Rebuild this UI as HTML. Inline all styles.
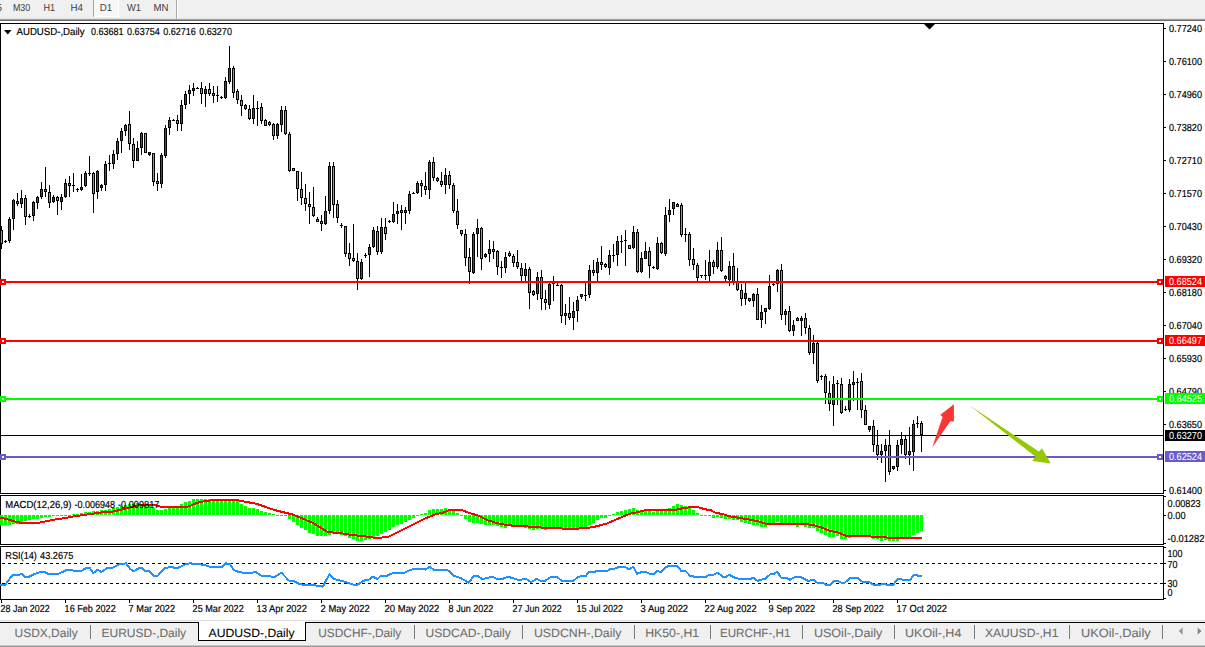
<!DOCTYPE html>
<html><head><meta charset="utf-8"><title>AUDUSD-,Daily</title>
<style>html,body{margin:0;padding:0;background:#fff;overflow:hidden}body{width:1205px;height:647px;font-family:"Liberation Sans", sans-serif}svg text{font-family:"Liberation Sans", sans-serif;white-space:pre;text-rendering:geometricPrecision}</style>
</head><body><svg width="1205" height="647" viewBox="0 0 1205 647" font-family='"Liberation Sans", sans-serif' style="display:block"><rect x="0" y="0" width="1205" height="647" fill="#ffffff"/>
<rect x="0" y="0" width="1205" height="18" fill="#f0f0f0"/>
<rect x="0" y="18" width="1205" height="1" fill="#e2e2e2"/>
<rect x="0" y="19" width="1205" height="1" fill="#a0a0a0"/>
<rect x="0" y="20" width="1205" height="1" fill="#696969"/>
<rect x="94" y="0" width="24" height="16" fill="#f7f7f7"/>
<rect x="118" y="0" width="1" height="17" fill="#ffffff"/>
<rect x="94" y="16" width="25" height="1" fill="#ffffff"/>
<rect x="93" y="0" width="1" height="17" fill="#a6a6a6"/>
<rect x="176" y="0" width="1" height="19" fill="#a6a6a6"/>
<rect x="177" y="0" width="1" height="19" fill="#ffffff"/>
<text x="-3.5" y="11" font-size="10.2" fill="#404040" stroke="#404040" stroke-width="0" textLength="5.5" lengthAdjust="spacingAndGlyphs">5</text>
<text x="12.9" y="11" font-size="10.2" fill="#404040" stroke="#404040" stroke-width="0" textLength="17.3" lengthAdjust="spacingAndGlyphs">M30</text>
<text x="43.5" y="11" font-size="10.2" fill="#404040" stroke="#404040" stroke-width="0" textLength="11.6" lengthAdjust="spacingAndGlyphs">H1</text>
<text x="70.5" y="11" font-size="10.2" fill="#404040" stroke="#404040" stroke-width="0" textLength="12.5" lengthAdjust="spacingAndGlyphs">H4</text>
<text x="99.7" y="11" font-size="10.2" fill="#404040" stroke="#404040" stroke-width="0" textLength="12.4" lengthAdjust="spacingAndGlyphs">D1</text>
<text x="127" y="11" font-size="10.2" fill="#404040" stroke="#404040" stroke-width="0" textLength="14" lengthAdjust="spacingAndGlyphs">W1</text>
<text x="153.5" y="11" font-size="10.2" fill="#404040" stroke="#404040" stroke-width="0" textLength="15" lengthAdjust="spacingAndGlyphs">MN</text>
<rect x="0" y="23" width="1164" height="1" fill="#000000"/>
<rect x="0" y="23" width="1" height="471" fill="#000000"/>
<rect x="1163" y="23" width="1" height="471" fill="#000000"/>
<rect x="0" y="495" width="1" height="50" fill="#000000"/>
<rect x="1163" y="495" width="1" height="50" fill="#000000"/>
<rect x="0" y="546" width="1" height="54" fill="#000000"/>
<rect x="1163" y="546" width="1" height="54" fill="#000000"/>
<rect x="0" y="493" width="1164" height="1" fill="#000000"/>
<rect x="0" y="494" width="1164" height="1" fill="#ffffff"/>
<rect x="0" y="495" width="1164" height="1" fill="#000000"/>
<rect x="0" y="544" width="1164" height="1" fill="#000000"/>
<rect x="0" y="546" width="1164" height="1" fill="#000000"/>
<rect x="0" y="599" width="1164" height="1" fill="#000000"/>
<g shape-rendering="crispEdges">
<rect x="0" y="515" width="3" height="10" fill="#00ff00"/>
<rect x="4" y="515" width="3" height="10" fill="#00ff00"/>
<rect x="8" y="515" width="3" height="10" fill="#00ff00"/>
<rect x="12" y="515" width="3" height="9" fill="#00ff00"/>
<rect x="16" y="515" width="3" height="9" fill="#00ff00"/>
<rect x="20" y="515" width="3" height="7" fill="#00ff00"/>
<rect x="24" y="515" width="3" height="6" fill="#00ff00"/>
<rect x="28" y="515" width="3" height="5" fill="#00ff00"/>
<rect x="32" y="515" width="3" height="4" fill="#00ff00"/>
<rect x="36" y="515" width="3" height="4" fill="#00ff00"/>
<rect x="40" y="515" width="3" height="3" fill="#00ff00"/>
<rect x="44" y="515" width="3" height="2" fill="#00ff00"/>
<rect x="48" y="515" width="3" height="2" fill="#00ff00"/>
<rect x="52" y="515" width="3" height="1" fill="#00ff00"/>
<rect x="56" y="515" width="3" height="1" fill="#00ff00"/>
<rect x="60" y="515" width="3" height="1" fill="#00ff00"/>
<rect x="64" y="515" width="3" height="1" fill="#00ff00"/>
<rect x="68" y="515" width="3" height="1" fill="#00ff00"/>
<rect x="72" y="514" width="3" height="1" fill="#00ff00"/>
<rect x="76" y="514" width="3" height="1" fill="#00ff00"/>
<rect x="80" y="513" width="3" height="2" fill="#00ff00"/>
<rect x="84" y="512" width="3" height="3" fill="#00ff00"/>
<rect x="88" y="512" width="3" height="3" fill="#00ff00"/>
<rect x="92" y="511" width="3" height="4" fill="#00ff00"/>
<rect x="96" y="511" width="3" height="4" fill="#00ff00"/>
<rect x="100" y="510" width="3" height="5" fill="#00ff00"/>
<rect x="104" y="510" width="3" height="5" fill="#00ff00"/>
<rect x="108" y="509" width="3" height="6" fill="#00ff00"/>
<rect x="112" y="508" width="3" height="7" fill="#00ff00"/>
<rect x="116" y="507" width="3" height="8" fill="#00ff00"/>
<rect x="120" y="506" width="3" height="9" fill="#00ff00"/>
<rect x="124" y="505" width="3" height="10" fill="#00ff00"/>
<rect x="128" y="504" width="3" height="11" fill="#00ff00"/>
<rect x="132" y="504" width="3" height="11" fill="#00ff00"/>
<rect x="136" y="503" width="3" height="12" fill="#00ff00"/>
<rect x="140" y="504" width="3" height="11" fill="#00ff00"/>
<rect x="144" y="504" width="3" height="11" fill="#00ff00"/>
<rect x="148" y="506" width="3" height="9" fill="#00ff00"/>
<rect x="152" y="508" width="3" height="7" fill="#00ff00"/>
<rect x="156" y="510" width="3" height="5" fill="#00ff00"/>
<rect x="160" y="510" width="3" height="5" fill="#00ff00"/>
<rect x="164" y="509" width="3" height="6" fill="#00ff00"/>
<rect x="168" y="508" width="3" height="7" fill="#00ff00"/>
<rect x="172" y="507" width="3" height="8" fill="#00ff00"/>
<rect x="176" y="506" width="3" height="9" fill="#00ff00"/>
<rect x="180" y="504" width="3" height="11" fill="#00ff00"/>
<rect x="184" y="502" width="3" height="13" fill="#00ff00"/>
<rect x="188" y="501" width="3" height="14" fill="#00ff00"/>
<rect x="192" y="499" width="3" height="16" fill="#00ff00"/>
<rect x="196" y="499" width="3" height="16" fill="#00ff00"/>
<rect x="200" y="499" width="3" height="16" fill="#00ff00"/>
<rect x="204" y="499" width="3" height="16" fill="#00ff00"/>
<rect x="208" y="499" width="3" height="16" fill="#00ff00"/>
<rect x="212" y="500" width="3" height="15" fill="#00ff00"/>
<rect x="216" y="500" width="3" height="15" fill="#00ff00"/>
<rect x="220" y="500" width="3" height="15" fill="#00ff00"/>
<rect x="224" y="500" width="3" height="15" fill="#00ff00"/>
<rect x="228" y="500" width="3" height="15" fill="#00ff00"/>
<rect x="232" y="500" width="3" height="15" fill="#00ff00"/>
<rect x="236" y="501" width="3" height="14" fill="#00ff00"/>
<rect x="240" y="504" width="3" height="11" fill="#00ff00"/>
<rect x="244" y="506" width="3" height="9" fill="#00ff00"/>
<rect x="248" y="508" width="3" height="7" fill="#00ff00"/>
<rect x="252" y="508" width="3" height="7" fill="#00ff00"/>
<rect x="256" y="509" width="3" height="6" fill="#00ff00"/>
<rect x="260" y="511" width="3" height="4" fill="#00ff00"/>
<rect x="264" y="512" width="3" height="3" fill="#00ff00"/>
<rect x="268" y="513" width="3" height="2" fill="#00ff00"/>
<rect x="272" y="514" width="3" height="1" fill="#00ff00"/>
<rect x="276" y="515" width="3" height="1" fill="#00ff00"/>
<rect x="280" y="515" width="3" height="1" fill="#00ff00"/>
<rect x="284" y="515" width="3" height="1" fill="#00ff00"/>
<rect x="288" y="515" width="3" height="4" fill="#00ff00"/>
<rect x="292" y="515" width="3" height="7" fill="#00ff00"/>
<rect x="296" y="515" width="3" height="10" fill="#00ff00"/>
<rect x="300" y="515" width="3" height="13" fill="#00ff00"/>
<rect x="304" y="515" width="3" height="15" fill="#00ff00"/>
<rect x="308" y="515" width="3" height="18" fill="#00ff00"/>
<rect x="312" y="515" width="3" height="19" fill="#00ff00"/>
<rect x="316" y="515" width="3" height="21" fill="#00ff00"/>
<rect x="320" y="515" width="3" height="21" fill="#00ff00"/>
<rect x="324" y="515" width="3" height="21" fill="#00ff00"/>
<rect x="328" y="515" width="3" height="20" fill="#00ff00"/>
<rect x="332" y="515" width="3" height="19" fill="#00ff00"/>
<rect x="336" y="515" width="3" height="19" fill="#00ff00"/>
<rect x="340" y="515" width="3" height="20" fill="#00ff00"/>
<rect x="344" y="515" width="3" height="21" fill="#00ff00"/>
<rect x="348" y="515" width="3" height="23" fill="#00ff00"/>
<rect x="352" y="515" width="3" height="24" fill="#00ff00"/>
<rect x="356" y="515" width="3" height="26" fill="#00ff00"/>
<rect x="360" y="515" width="3" height="26" fill="#00ff00"/>
<rect x="364" y="515" width="3" height="25" fill="#00ff00"/>
<rect x="368" y="515" width="3" height="24" fill="#00ff00"/>
<rect x="372" y="515" width="3" height="22" fill="#00ff00"/>
<rect x="376" y="515" width="3" height="21" fill="#00ff00"/>
<rect x="380" y="515" width="3" height="19" fill="#00ff00"/>
<rect x="384" y="515" width="3" height="17" fill="#00ff00"/>
<rect x="388" y="515" width="3" height="15" fill="#00ff00"/>
<rect x="392" y="515" width="3" height="12" fill="#00ff00"/>
<rect x="396" y="515" width="3" height="10" fill="#00ff00"/>
<rect x="400" y="515" width="3" height="9" fill="#00ff00"/>
<rect x="404" y="515" width="3" height="7" fill="#00ff00"/>
<rect x="408" y="515" width="3" height="5" fill="#00ff00"/>
<rect x="412" y="515" width="3" height="3" fill="#00ff00"/>
<rect x="416" y="515" width="3" height="1" fill="#00ff00"/>
<rect x="420" y="514" width="3" height="1" fill="#00ff00"/>
<rect x="424" y="513" width="3" height="2" fill="#00ff00"/>
<rect x="428" y="510" width="3" height="5" fill="#00ff00"/>
<rect x="432" y="509" width="3" height="6" fill="#00ff00"/>
<rect x="436" y="509" width="3" height="6" fill="#00ff00"/>
<rect x="440" y="509" width="3" height="6" fill="#00ff00"/>
<rect x="444" y="508" width="3" height="7" fill="#00ff00"/>
<rect x="448" y="510" width="3" height="5" fill="#00ff00"/>
<rect x="452" y="511" width="3" height="4" fill="#00ff00"/>
<rect x="456" y="513" width="3" height="2" fill="#00ff00"/>
<rect x="460" y="515" width="3" height="1" fill="#00ff00"/>
<rect x="464" y="515" width="3" height="4" fill="#00ff00"/>
<rect x="468" y="515" width="3" height="7" fill="#00ff00"/>
<rect x="472" y="515" width="3" height="8" fill="#00ff00"/>
<rect x="476" y="515" width="3" height="8" fill="#00ff00"/>
<rect x="480" y="515" width="3" height="9" fill="#00ff00"/>
<rect x="484" y="515" width="3" height="10" fill="#00ff00"/>
<rect x="488" y="515" width="3" height="10" fill="#00ff00"/>
<rect x="492" y="515" width="3" height="10" fill="#00ff00"/>
<rect x="496" y="515" width="3" height="11" fill="#00ff00"/>
<rect x="500" y="515" width="3" height="12" fill="#00ff00"/>
<rect x="504" y="515" width="3" height="13" fill="#00ff00"/>
<rect x="508" y="515" width="3" height="11" fill="#00ff00"/>
<rect x="512" y="515" width="3" height="11" fill="#00ff00"/>
<rect x="516" y="515" width="3" height="11" fill="#00ff00"/>
<rect x="520" y="515" width="3" height="12" fill="#00ff00"/>
<rect x="524" y="515" width="3" height="13" fill="#00ff00"/>
<rect x="528" y="515" width="3" height="14" fill="#00ff00"/>
<rect x="532" y="515" width="3" height="15" fill="#00ff00"/>
<rect x="536" y="515" width="3" height="14" fill="#00ff00"/>
<rect x="540" y="515" width="3" height="14" fill="#00ff00"/>
<rect x="544" y="515" width="3" height="15" fill="#00ff00"/>
<rect x="548" y="515" width="3" height="14" fill="#00ff00"/>
<rect x="552" y="515" width="3" height="14" fill="#00ff00"/>
<rect x="556" y="515" width="3" height="14" fill="#00ff00"/>
<rect x="560" y="515" width="3" height="14" fill="#00ff00"/>
<rect x="564" y="515" width="3" height="14" fill="#00ff00"/>
<rect x="568" y="515" width="3" height="15" fill="#00ff00"/>
<rect x="572" y="515" width="3" height="15" fill="#00ff00"/>
<rect x="576" y="515" width="3" height="14" fill="#00ff00"/>
<rect x="580" y="515" width="3" height="14" fill="#00ff00"/>
<rect x="584" y="515" width="3" height="12" fill="#00ff00"/>
<rect x="588" y="515" width="3" height="10" fill="#00ff00"/>
<rect x="592" y="515" width="3" height="8" fill="#00ff00"/>
<rect x="596" y="515" width="3" height="5" fill="#00ff00"/>
<rect x="600" y="515" width="3" height="3" fill="#00ff00"/>
<rect x="604" y="515" width="3" height="3" fill="#00ff00"/>
<rect x="608" y="515" width="3" height="1" fill="#00ff00"/>
<rect x="612" y="514" width="3" height="1" fill="#00ff00"/>
<rect x="616" y="512" width="3" height="3" fill="#00ff00"/>
<rect x="620" y="511" width="3" height="4" fill="#00ff00"/>
<rect x="624" y="510" width="3" height="5" fill="#00ff00"/>
<rect x="628" y="509" width="3" height="6" fill="#00ff00"/>
<rect x="632" y="508" width="3" height="7" fill="#00ff00"/>
<rect x="636" y="510" width="3" height="5" fill="#00ff00"/>
<rect x="640" y="511" width="3" height="4" fill="#00ff00"/>
<rect x="644" y="511" width="3" height="4" fill="#00ff00"/>
<rect x="648" y="511" width="3" height="4" fill="#00ff00"/>
<rect x="652" y="512" width="3" height="3" fill="#00ff00"/>
<rect x="656" y="511" width="3" height="4" fill="#00ff00"/>
<rect x="660" y="510" width="3" height="5" fill="#00ff00"/>
<rect x="664" y="510" width="3" height="5" fill="#00ff00"/>
<rect x="668" y="508" width="3" height="7" fill="#00ff00"/>
<rect x="672" y="506" width="3" height="9" fill="#00ff00"/>
<rect x="676" y="504" width="3" height="11" fill="#00ff00"/>
<rect x="680" y="505" width="3" height="10" fill="#00ff00"/>
<rect x="684" y="506" width="3" height="9" fill="#00ff00"/>
<rect x="688" y="508" width="3" height="7" fill="#00ff00"/>
<rect x="692" y="510" width="3" height="5" fill="#00ff00"/>
<rect x="696" y="513" width="3" height="2" fill="#00ff00"/>
<rect x="700" y="515" width="3" height="1" fill="#00ff00"/>
<rect x="704" y="515" width="3" height="1" fill="#00ff00"/>
<rect x="708" y="515" width="3" height="1" fill="#00ff00"/>
<rect x="712" y="515" width="3" height="3" fill="#00ff00"/>
<rect x="716" y="515" width="3" height="2" fill="#00ff00"/>
<rect x="720" y="515" width="3" height="3" fill="#00ff00"/>
<rect x="724" y="515" width="3" height="4" fill="#00ff00"/>
<rect x="728" y="515" width="3" height="4" fill="#00ff00"/>
<rect x="732" y="515" width="3" height="5" fill="#00ff00"/>
<rect x="736" y="515" width="3" height="5" fill="#00ff00"/>
<rect x="740" y="515" width="3" height="7" fill="#00ff00"/>
<rect x="744" y="515" width="3" height="8" fill="#00ff00"/>
<rect x="748" y="515" width="3" height="9" fill="#00ff00"/>
<rect x="752" y="515" width="3" height="10" fill="#00ff00"/>
<rect x="756" y="515" width="3" height="10" fill="#00ff00"/>
<rect x="760" y="515" width="3" height="12" fill="#00ff00"/>
<rect x="764" y="515" width="3" height="12" fill="#00ff00"/>
<rect x="768" y="515" width="3" height="10" fill="#00ff00"/>
<rect x="772" y="515" width="3" height="9" fill="#00ff00"/>
<rect x="776" y="515" width="3" height="7" fill="#00ff00"/>
<rect x="780" y="515" width="3" height="8" fill="#00ff00"/>
<rect x="784" y="515" width="3" height="9" fill="#00ff00"/>
<rect x="788" y="515" width="3" height="10" fill="#00ff00"/>
<rect x="792" y="515" width="3" height="10" fill="#00ff00"/>
<rect x="796" y="515" width="3" height="12" fill="#00ff00"/>
<rect x="800" y="515" width="3" height="10" fill="#00ff00"/>
<rect x="804" y="515" width="3" height="12" fill="#00ff00"/>
<rect x="808" y="515" width="3" height="13" fill="#00ff00"/>
<rect x="812" y="515" width="3" height="13" fill="#00ff00"/>
<rect x="816" y="515" width="3" height="16" fill="#00ff00"/>
<rect x="820" y="515" width="3" height="18" fill="#00ff00"/>
<rect x="824" y="515" width="3" height="20" fill="#00ff00"/>
<rect x="828" y="515" width="3" height="22" fill="#00ff00"/>
<rect x="832" y="515" width="3" height="22" fill="#00ff00"/>
<rect x="836" y="515" width="3" height="21" fill="#00ff00"/>
<rect x="840" y="515" width="3" height="24" fill="#00ff00"/>
<rect x="844" y="515" width="3" height="24" fill="#00ff00"/>
<rect x="848" y="515" width="3" height="23" fill="#00ff00"/>
<rect x="852" y="515" width="3" height="21" fill="#00ff00"/>
<rect x="856" y="515" width="3" height="21" fill="#00ff00"/>
<rect x="860" y="515" width="3" height="21" fill="#00ff00"/>
<rect x="864" y="515" width="3" height="22" fill="#00ff00"/>
<rect x="868" y="515" width="3" height="22" fill="#00ff00"/>
<rect x="872" y="515" width="3" height="24" fill="#00ff00"/>
<rect x="876" y="515" width="3" height="24" fill="#00ff00"/>
<rect x="880" y="515" width="3" height="26" fill="#00ff00"/>
<rect x="884" y="515" width="3" height="25" fill="#00ff00"/>
<rect x="888" y="515" width="3" height="26" fill="#00ff00"/>
<rect x="892" y="515" width="3" height="26" fill="#00ff00"/>
<rect x="896" y="515" width="3" height="26" fill="#00ff00"/>
<rect x="900" y="515" width="3" height="24" fill="#00ff00"/>
<rect x="904" y="515" width="3" height="24" fill="#00ff00"/>
<rect x="908" y="515" width="3" height="22" fill="#00ff00"/>
<rect x="912" y="515" width="3" height="20" fill="#00ff00"/>
<rect x="916" y="515" width="3" height="18" fill="#00ff00"/>
<rect x="920" y="515" width="3" height="16" fill="#00ff00"/>
</g>
<polyline shape-rendering="crispEdges" fill="none" stroke="#ff0000" stroke-width="2" stroke-linejoin="round" points="0.0,517.6 8.3,519.6 16.6,522.0 24.9,523.4 36.5,523.2 44.8,521.5 54.8,519.6 66.4,517.9 74.7,516.2 86.3,514.6 99.6,512.6 112.9,511.6 121.2,509.6 129.5,507.6 137.8,505.4 146.1,505.0 156.0,505.4 162.7,507.1 174.3,507.1 187.6,506.6 190.0,505.9 196.6,503.0 204.9,501.0 214.9,500.0 236.5,500.0 244.8,501.6 256.4,503.8 264.7,506.6 273.0,509.6 282.9,512.1 292.9,514.6 302.9,518.7 312.8,522.9 321.1,527.9 327.8,532.0 336.1,532.8 344.4,533.7 354.3,535.3 364.3,536.2 372.6,537.5 380.0,537.8 389.1,536.5 401.6,530.3 413.2,524.5 424.8,518.7 434.8,514.6 443.1,512.6 449.7,509.9 461.3,509.9 469.6,513.2 477.9,515.4 487.9,520.4 499.5,523.7 509.5,525.4 524.4,526.2 541.0,527.5 557.6,528.4 569.2,528.7 570.0,528.7 584.9,528.4 594.9,526.7 606.5,523.7 618.1,518.7 629.8,513.7 638.0,512.1 646.3,509.9 662.9,509.9 676.2,509.6 684.5,507.9 691.2,507.1 697.8,507.1 704.4,509.1 711.1,510.4 714.4,512.4 722.7,514.2 731.0,516.6 741.0,518.2 750.9,519.9 759.2,521.5 760.0,522.0 766.6,524.0 804.8,524.0 813.1,525.0 821.4,527.5 829.7,530.8 838.0,532.5 846.3,535.8 867.9,535.8 872.9,537.0 884.5,537.0 889.5,538.1 916.8,538.1 918.5,537.5 921.8,537.5"/>
<g shape-rendering="crispEdges">
<line x1="2" y1="563.5" x2="1163" y2="563.5" stroke="#000" stroke-width="1" stroke-dasharray="3 3"/>
<line x1="2" y1="583.5" x2="1163" y2="583.5" stroke="#000" stroke-width="1" stroke-dasharray="3 3"/>
</g>
<polyline shape-rendering="crispEdges" fill="none" stroke="#1e90ff" stroke-width="2" stroke-linejoin="round" points="0.0,585.0 5.0,585.0 12.4,575.0 18.3,575.0 21.6,573.9 24.9,576.7 29.0,576.7 34.9,573.9 39.8,572.1 44.8,572.1 48.1,573.9 58.1,573.9 66.4,570.1 71.4,570.1 73.9,570.9 81.3,570.9 87.1,567.6 89.6,567.6 93.3,573.1 97.9,569.7 101.2,572.2 107.1,567.9 112.9,567.6 119.5,564.3 126.1,563.4 130.3,569.2 133.6,571.2 139.4,567.9 141.9,567.9 145.2,570.9 148.5,570.9 153.5,575.9 157.7,575.9 164.3,568.4 171.8,566.7 174.3,567.9 178.4,567.6 186.7,563.8 190.0,563.4 196.6,563.9 204.9,565.1 209.9,566.7 222.4,566.7 225.7,563.4 229.8,563.9 234.0,570.1 238.1,571.7 246.4,573.4 250.6,573.4 255.6,571.7 261.4,575.9 269.7,575.9 273.8,577.5 281.3,572.6 288.8,580.5 292.9,580.5 299.5,584.2 309.5,585.3 316.1,585.5 322.8,586.7 329.4,574.2 334.4,579.2 344.4,581.7 354.3,585.0 357.6,584.5 364.3,580.5 368.4,580.0 372.6,576.7 377.6,578.9 380.0,576.4 386.6,575.9 390.8,573.9 394.9,572.6 404.9,572.6 410.7,569.7 417.3,568.7 421.5,568.7 425.6,569.7 429.3,566.7 433.9,569.7 447.2,569.7 453.9,575.9 460.5,577.9 468.8,582.8 473.8,575.9 477.9,575.9 482.1,578.9 486.2,578.4 492.0,576.7 497.0,578.9 502.8,578.9 507.8,576.7 518.6,580.0 526.1,578.9 531.0,582.2 536.8,578.9 541.0,580.9 545.1,580.9 551.0,576.7 556.8,576.7 561.7,580.9 569.2,580.9 570.0,580.9 573.3,580.9 578.3,576.7 585.8,575.9 589.1,571.7 594.9,571.7 597.4,570.9 607.3,570.9 610.7,568.9 614.8,568.7 619.0,566.7 624.8,566.7 628.1,568.7 630.6,568.7 633.1,566.7 637.2,573.9 642.2,571.7 645.5,571.7 649.7,573.9 653.8,573.9 657.1,570.9 661.3,572.1 666.3,566.7 671.2,565.9 677.1,565.9 681.2,570.9 685.4,570.9 690.3,575.9 694.5,576.7 706.1,576.7 709.4,574.7 713.6,574.7 717.7,572.6 722.7,576.7 726.0,576.7 729.3,574.7 734.3,577.5 738.5,578.7 750.9,578.7 753.4,577.9 757.6,580.9 759.2,580.0 760.0,580.0 765.0,578.9 770.8,573.9 774.1,573.7 777.4,571.7 780.7,577.5 785.7,577.5 789.9,579.7 794.0,577.5 799.8,576.7 808.1,580.9 813.1,579.7 817.3,582.8 823.1,582.8 826.4,585.0 829.7,585.0 833.9,580.9 838.0,580.9 841.3,582.8 844.6,582.8 850.5,577.5 857.1,577.5 862.1,581.7 868.7,581.7 873.7,585.0 879.5,585.0 882.8,583.8 887.8,585.0 892.8,585.0 897.8,579.2 900.2,578.7 902.7,579.7 910.2,579.7 913.5,575.5 916.0,574.7 918.5,575.9 921.8,575.9"/>
<g shape-rendering="crispEdges">
<rect x="1" y="226" width="1" height="23" fill="#000"/>
<rect x="0" y="230" width="3" height="14" fill="#000"/>
<rect x="1" y="231" width="1" height="12" fill="#00ff00"/>
<rect x="5" y="240" width="1" height="3" fill="#000"/>
<rect x="4" y="241" width="3" height="1" fill="#000"/>
<rect x="9" y="217" width="1" height="26" fill="#000"/>
<rect x="8" y="219" width="3" height="22" fill="#000"/>
<rect x="9" y="220" width="1" height="20" fill="#ff0000"/>
<rect x="13" y="199" width="1" height="31" fill="#000"/>
<rect x="12" y="200" width="3" height="19" fill="#000"/>
<rect x="13" y="201" width="1" height="17" fill="#ff0000"/>
<rect x="17" y="193" width="1" height="13" fill="#000"/>
<rect x="16" y="201" width="3" height="3" fill="#000"/>
<rect x="17" y="202" width="1" height="1" fill="#00ff00"/>
<rect x="21" y="190" width="1" height="18" fill="#000"/>
<rect x="20" y="198" width="3" height="6" fill="#000"/>
<rect x="21" y="199" width="1" height="4" fill="#ff0000"/>
<rect x="25" y="195" width="1" height="30" fill="#000"/>
<rect x="24" y="198" width="3" height="19" fill="#000"/>
<rect x="25" y="199" width="1" height="17" fill="#00ff00"/>
<rect x="29" y="214" width="1" height="4" fill="#000"/>
<rect x="28" y="216" width="3" height="1" fill="#000"/>
<rect x="33" y="201" width="1" height="20" fill="#000"/>
<rect x="32" y="202" width="3" height="14" fill="#000"/>
<rect x="33" y="203" width="1" height="12" fill="#ff0000"/>
<rect x="37" y="196" width="1" height="13" fill="#000"/>
<rect x="36" y="197" width="3" height="6" fill="#000"/>
<rect x="37" y="198" width="1" height="4" fill="#ff0000"/>
<rect x="41" y="182" width="1" height="17" fill="#000"/>
<rect x="40" y="189" width="3" height="8" fill="#000"/>
<rect x="41" y="190" width="1" height="6" fill="#ff0000"/>
<rect x="45" y="167" width="1" height="30" fill="#000"/>
<rect x="44" y="189" width="3" height="3" fill="#000"/>
<rect x="45" y="190" width="1" height="1" fill="#00ff00"/>
<rect x="49" y="185" width="1" height="23" fill="#000"/>
<rect x="48" y="192" width="3" height="11" fill="#000"/>
<rect x="49" y="193" width="1" height="9" fill="#00ff00"/>
<rect x="53" y="195" width="1" height="8" fill="#000"/>
<rect x="52" y="197" width="3" height="5" fill="#000"/>
<rect x="53" y="198" width="1" height="3" fill="#ff0000"/>
<rect x="57" y="196" width="1" height="19" fill="#000"/>
<rect x="56" y="197" width="3" height="4" fill="#000"/>
<rect x="57" y="198" width="1" height="2" fill="#00ff00"/>
<rect x="61" y="194" width="1" height="16" fill="#000"/>
<rect x="60" y="197" width="3" height="5" fill="#000"/>
<rect x="61" y="198" width="1" height="3" fill="#ff0000"/>
<rect x="65" y="179" width="1" height="19" fill="#000"/>
<rect x="64" y="183" width="3" height="14" fill="#000"/>
<rect x="65" y="184" width="1" height="12" fill="#ff0000"/>
<rect x="69" y="176" width="1" height="21" fill="#000"/>
<rect x="68" y="183" width="3" height="3" fill="#000"/>
<rect x="69" y="184" width="1" height="1" fill="#00ff00"/>
<rect x="73" y="173" width="1" height="19" fill="#000"/>
<rect x="72" y="185" width="3" height="1" fill="#000"/>
<rect x="77" y="188" width="1" height="4" fill="#000"/>
<rect x="76" y="189" width="3" height="1" fill="#000"/>
<rect x="81" y="174" width="1" height="17" fill="#000"/>
<rect x="80" y="187" width="3" height="3" fill="#000"/>
<rect x="81" y="188" width="1" height="1" fill="#ff0000"/>
<rect x="85" y="171" width="1" height="16" fill="#000"/>
<rect x="84" y="173" width="3" height="13" fill="#000"/>
<rect x="85" y="174" width="1" height="11" fill="#ff0000"/>
<rect x="89" y="156" width="1" height="20" fill="#000"/>
<rect x="88" y="173" width="3" height="1" fill="#000"/>
<rect x="93" y="172" width="1" height="41" fill="#000"/>
<rect x="92" y="173" width="3" height="21" fill="#000"/>
<rect x="93" y="174" width="1" height="19" fill="#00ff00"/>
<rect x="97" y="170" width="1" height="29" fill="#000"/>
<rect x="96" y="171" width="3" height="21" fill="#000"/>
<rect x="97" y="172" width="1" height="19" fill="#ff0000"/>
<rect x="101" y="184" width="1" height="7" fill="#000"/>
<rect x="100" y="185" width="3" height="3" fill="#000"/>
<rect x="101" y="186" width="1" height="1" fill="#ff0000"/>
<rect x="105" y="161" width="1" height="30" fill="#000"/>
<rect x="104" y="164" width="3" height="21" fill="#000"/>
<rect x="105" y="165" width="1" height="19" fill="#ff0000"/>
<rect x="109" y="155" width="1" height="16" fill="#000"/>
<rect x="108" y="163" width="3" height="1" fill="#000"/>
<rect x="113" y="150" width="1" height="19" fill="#000"/>
<rect x="112" y="154" width="3" height="10" fill="#000"/>
<rect x="113" y="155" width="1" height="8" fill="#ff0000"/>
<rect x="117" y="138" width="1" height="22" fill="#000"/>
<rect x="116" y="141" width="3" height="13" fill="#000"/>
<rect x="117" y="142" width="1" height="11" fill="#ff0000"/>
<rect x="121" y="128" width="1" height="25" fill="#000"/>
<rect x="120" y="131" width="3" height="10" fill="#000"/>
<rect x="121" y="132" width="1" height="8" fill="#ff0000"/>
<rect x="125" y="124" width="1" height="12" fill="#000"/>
<rect x="124" y="125" width="3" height="6" fill="#000"/>
<rect x="125" y="126" width="1" height="4" fill="#ff0000"/>
<rect x="129" y="111" width="1" height="39" fill="#000"/>
<rect x="128" y="124" width="3" height="20" fill="#000"/>
<rect x="129" y="125" width="1" height="18" fill="#00ff00"/>
<rect x="133" y="138" width="1" height="30" fill="#000"/>
<rect x="132" y="144" width="3" height="17" fill="#000"/>
<rect x="133" y="145" width="1" height="15" fill="#00ff00"/>
<rect x="137" y="141" width="1" height="20" fill="#000"/>
<rect x="136" y="148" width="3" height="13" fill="#000"/>
<rect x="137" y="149" width="1" height="11" fill="#ff0000"/>
<rect x="141" y="132" width="1" height="23" fill="#000"/>
<rect x="140" y="133" width="3" height="15" fill="#000"/>
<rect x="141" y="134" width="1" height="13" fill="#ff0000"/>
<rect x="145" y="133" width="1" height="20" fill="#000"/>
<rect x="144" y="133" width="3" height="20" fill="#000"/>
<rect x="145" y="134" width="1" height="18" fill="#00ff00"/>
<rect x="149" y="152" width="1" height="4" fill="#000"/>
<rect x="148" y="152" width="3" height="3" fill="#000"/>
<rect x="149" y="153" width="1" height="1" fill="#ff0000"/>
<rect x="153" y="153" width="1" height="33" fill="#000"/>
<rect x="152" y="153" width="3" height="29" fill="#000"/>
<rect x="153" y="154" width="1" height="27" fill="#00ff00"/>
<rect x="157" y="173" width="1" height="18" fill="#000"/>
<rect x="156" y="181" width="3" height="3" fill="#000"/>
<rect x="157" y="182" width="1" height="1" fill="#00ff00"/>
<rect x="161" y="153" width="1" height="35" fill="#000"/>
<rect x="160" y="155" width="3" height="29" fill="#000"/>
<rect x="161" y="156" width="1" height="27" fill="#ff0000"/>
<rect x="165" y="125" width="1" height="33" fill="#000"/>
<rect x="164" y="128" width="3" height="28" fill="#000"/>
<rect x="165" y="129" width="1" height="26" fill="#ff0000"/>
<rect x="169" y="117" width="1" height="18" fill="#000"/>
<rect x="168" y="120" width="3" height="8" fill="#000"/>
<rect x="169" y="121" width="1" height="6" fill="#ff0000"/>
<rect x="173" y="119" width="1" height="2" fill="#000"/>
<rect x="172" y="120" width="3" height="1" fill="#000"/>
<rect x="177" y="115" width="1" height="16" fill="#000"/>
<rect x="176" y="120" width="3" height="4" fill="#000"/>
<rect x="177" y="121" width="1" height="2" fill="#00ff00"/>
<rect x="181" y="100" width="1" height="31" fill="#000"/>
<rect x="180" y="105" width="3" height="19" fill="#000"/>
<rect x="181" y="106" width="1" height="17" fill="#ff0000"/>
<rect x="185" y="91" width="1" height="18" fill="#000"/>
<rect x="184" y="94" width="3" height="11" fill="#000"/>
<rect x="185" y="95" width="1" height="9" fill="#ff0000"/>
<rect x="189" y="85" width="1" height="19" fill="#000"/>
<rect x="188" y="90" width="3" height="4" fill="#000"/>
<rect x="189" y="91" width="1" height="2" fill="#ff0000"/>
<rect x="193" y="83" width="1" height="13" fill="#000"/>
<rect x="192" y="88" width="3" height="3" fill="#000"/>
<rect x="193" y="89" width="1" height="1" fill="#ff0000"/>
<rect x="197" y="87" width="1" height="2" fill="#000"/>
<rect x="196" y="88" width="3" height="1" fill="#000"/>
<rect x="201" y="82" width="1" height="22" fill="#000"/>
<rect x="200" y="88" width="3" height="6" fill="#000"/>
<rect x="201" y="89" width="1" height="4" fill="#00ff00"/>
<rect x="205" y="86" width="1" height="21" fill="#000"/>
<rect x="204" y="89" width="3" height="5" fill="#000"/>
<rect x="205" y="90" width="1" height="3" fill="#ff0000"/>
<rect x="209" y="83" width="1" height="13" fill="#000"/>
<rect x="208" y="89" width="3" height="5" fill="#000"/>
<rect x="209" y="90" width="1" height="3" fill="#00ff00"/>
<rect x="213" y="86" width="1" height="17" fill="#000"/>
<rect x="212" y="93" width="3" height="3" fill="#000"/>
<rect x="213" y="94" width="1" height="1" fill="#00ff00"/>
<rect x="217" y="86" width="1" height="16" fill="#000"/>
<rect x="216" y="95" width="3" height="1" fill="#000"/>
<rect x="221" y="96" width="1" height="3" fill="#000"/>
<rect x="220" y="97" width="3" height="1" fill="#000"/>
<rect x="225" y="77" width="1" height="22" fill="#000"/>
<rect x="224" y="81" width="3" height="17" fill="#000"/>
<rect x="225" y="82" width="1" height="15" fill="#ff0000"/>
<rect x="229" y="46" width="1" height="38" fill="#000"/>
<rect x="228" y="68" width="3" height="14" fill="#000"/>
<rect x="229" y="69" width="1" height="12" fill="#ff0000"/>
<rect x="233" y="66" width="1" height="32" fill="#000"/>
<rect x="232" y="68" width="3" height="25" fill="#000"/>
<rect x="233" y="69" width="1" height="23" fill="#00ff00"/>
<rect x="237" y="89" width="1" height="15" fill="#000"/>
<rect x="236" y="91" width="3" height="9" fill="#000"/>
<rect x="237" y="92" width="1" height="7" fill="#00ff00"/>
<rect x="241" y="95" width="1" height="21" fill="#000"/>
<rect x="240" y="100" width="3" height="6" fill="#000"/>
<rect x="241" y="101" width="1" height="4" fill="#00ff00"/>
<rect x="245" y="104" width="1" height="6" fill="#000"/>
<rect x="244" y="105" width="3" height="4" fill="#000"/>
<rect x="245" y="106" width="1" height="2" fill="#00ff00"/>
<rect x="249" y="105" width="1" height="15" fill="#000"/>
<rect x="248" y="109" width="3" height="10" fill="#000"/>
<rect x="249" y="110" width="1" height="8" fill="#00ff00"/>
<rect x="253" y="95" width="1" height="29" fill="#000"/>
<rect x="252" y="108" width="3" height="11" fill="#000"/>
<rect x="253" y="109" width="1" height="9" fill="#ff0000"/>
<rect x="257" y="101" width="1" height="25" fill="#000"/>
<rect x="256" y="108" width="3" height="1" fill="#000"/>
<rect x="261" y="103" width="1" height="21" fill="#000"/>
<rect x="260" y="107" width="3" height="14" fill="#000"/>
<rect x="261" y="108" width="1" height="12" fill="#00ff00"/>
<rect x="265" y="119" width="1" height="7" fill="#000"/>
<rect x="264" y="120" width="3" height="6" fill="#000"/>
<rect x="265" y="121" width="1" height="4" fill="#00ff00"/>
<rect x="269" y="121" width="1" height="5" fill="#000"/>
<rect x="268" y="122" width="3" height="3" fill="#000"/>
<rect x="269" y="123" width="1" height="1" fill="#00ff00"/>
<rect x="273" y="123" width="1" height="17" fill="#000"/>
<rect x="272" y="124" width="3" height="12" fill="#000"/>
<rect x="273" y="125" width="1" height="10" fill="#00ff00"/>
<rect x="277" y="123" width="1" height="16" fill="#000"/>
<rect x="276" y="124" width="3" height="12" fill="#000"/>
<rect x="277" y="125" width="1" height="10" fill="#ff0000"/>
<rect x="281" y="106" width="1" height="26" fill="#000"/>
<rect x="280" y="110" width="3" height="15" fill="#000"/>
<rect x="281" y="111" width="1" height="13" fill="#ff0000"/>
<rect x="285" y="106" width="1" height="29" fill="#000"/>
<rect x="284" y="110" width="3" height="24" fill="#000"/>
<rect x="285" y="111" width="1" height="22" fill="#00ff00"/>
<rect x="289" y="132" width="1" height="40" fill="#000"/>
<rect x="288" y="134" width="3" height="37" fill="#000"/>
<rect x="289" y="135" width="1" height="35" fill="#00ff00"/>
<rect x="293" y="168" width="1" height="3" fill="#000"/>
<rect x="292" y="168" width="3" height="3" fill="#000"/>
<rect x="293" y="169" width="1" height="1" fill="#00ff00"/>
<rect x="297" y="171" width="1" height="30" fill="#000"/>
<rect x="296" y="171" width="3" height="18" fill="#000"/>
<rect x="297" y="172" width="1" height="16" fill="#00ff00"/>
<rect x="301" y="172" width="1" height="33" fill="#000"/>
<rect x="300" y="189" width="3" height="9" fill="#000"/>
<rect x="301" y="190" width="1" height="7" fill="#00ff00"/>
<rect x="305" y="184" width="1" height="27" fill="#000"/>
<rect x="304" y="198" width="3" height="6" fill="#000"/>
<rect x="305" y="199" width="1" height="4" fill="#00ff00"/>
<rect x="309" y="192" width="1" height="32" fill="#000"/>
<rect x="308" y="204" width="3" height="3" fill="#000"/>
<rect x="309" y="205" width="1" height="1" fill="#00ff00"/>
<rect x="313" y="187" width="1" height="30" fill="#000"/>
<rect x="312" y="207" width="3" height="9" fill="#000"/>
<rect x="313" y="208" width="1" height="7" fill="#00ff00"/>
<rect x="317" y="217" width="1" height="5" fill="#000"/>
<rect x="316" y="219" width="3" height="3" fill="#000"/>
<rect x="317" y="220" width="1" height="1" fill="#00ff00"/>
<rect x="321" y="215" width="1" height="16" fill="#000"/>
<rect x="320" y="221" width="3" height="3" fill="#000"/>
<rect x="321" y="222" width="1" height="1" fill="#00ff00"/>
<rect x="325" y="196" width="1" height="29" fill="#000"/>
<rect x="324" y="211" width="3" height="13" fill="#000"/>
<rect x="325" y="212" width="1" height="11" fill="#ff0000"/>
<rect x="329" y="162" width="1" height="52" fill="#000"/>
<rect x="328" y="166" width="3" height="45" fill="#000"/>
<rect x="329" y="167" width="1" height="43" fill="#ff0000"/>
<rect x="333" y="162" width="1" height="56" fill="#000"/>
<rect x="332" y="166" width="3" height="39" fill="#000"/>
<rect x="333" y="167" width="1" height="37" fill="#00ff00"/>
<rect x="337" y="200" width="1" height="23" fill="#000"/>
<rect x="336" y="204" width="3" height="14" fill="#000"/>
<rect x="337" y="205" width="1" height="12" fill="#00ff00"/>
<rect x="341" y="223" width="1" height="5" fill="#000"/>
<rect x="340" y="225" width="3" height="1" fill="#000"/>
<rect x="345" y="226" width="1" height="31" fill="#000"/>
<rect x="344" y="226" width="3" height="28" fill="#000"/>
<rect x="345" y="227" width="1" height="26" fill="#00ff00"/>
<rect x="349" y="243" width="1" height="23" fill="#000"/>
<rect x="348" y="253" width="3" height="6" fill="#000"/>
<rect x="349" y="254" width="1" height="4" fill="#00ff00"/>
<rect x="353" y="224" width="1" height="38" fill="#000"/>
<rect x="352" y="258" width="3" height="3" fill="#000"/>
<rect x="353" y="259" width="1" height="1" fill="#00ff00"/>
<rect x="357" y="253" width="1" height="37" fill="#000"/>
<rect x="356" y="261" width="3" height="18" fill="#000"/>
<rect x="357" y="262" width="1" height="16" fill="#00ff00"/>
<rect x="361" y="259" width="1" height="21" fill="#000"/>
<rect x="360" y="262" width="3" height="17" fill="#000"/>
<rect x="361" y="263" width="1" height="15" fill="#ff0000"/>
<rect x="365" y="253" width="1" height="5" fill="#000"/>
<rect x="364" y="255" width="3" height="1" fill="#000"/>
<rect x="369" y="244" width="1" height="33" fill="#000"/>
<rect x="368" y="247" width="3" height="8" fill="#000"/>
<rect x="369" y="248" width="1" height="6" fill="#ff0000"/>
<rect x="373" y="227" width="1" height="21" fill="#000"/>
<rect x="372" y="230" width="3" height="17" fill="#000"/>
<rect x="373" y="231" width="1" height="15" fill="#ff0000"/>
<rect x="377" y="226" width="1" height="29" fill="#000"/>
<rect x="376" y="231" width="3" height="21" fill="#000"/>
<rect x="377" y="232" width="1" height="19" fill="#00ff00"/>
<rect x="381" y="218" width="1" height="36" fill="#000"/>
<rect x="380" y="227" width="3" height="25" fill="#000"/>
<rect x="381" y="228" width="1" height="23" fill="#ff0000"/>
<rect x="385" y="218" width="1" height="22" fill="#000"/>
<rect x="384" y="227" width="3" height="7" fill="#000"/>
<rect x="385" y="228" width="1" height="5" fill="#00ff00"/>
<rect x="389" y="220" width="1" height="3" fill="#000"/>
<rect x="388" y="221" width="3" height="1" fill="#000"/>
<rect x="393" y="202" width="1" height="21" fill="#000"/>
<rect x="392" y="214" width="3" height="8" fill="#000"/>
<rect x="393" y="215" width="1" height="6" fill="#ff0000"/>
<rect x="397" y="204" width="1" height="20" fill="#000"/>
<rect x="396" y="211" width="3" height="3" fill="#000"/>
<rect x="397" y="212" width="1" height="1" fill="#ff0000"/>
<rect x="401" y="205" width="1" height="25" fill="#000"/>
<rect x="400" y="210" width="3" height="3" fill="#000"/>
<rect x="401" y="211" width="1" height="1" fill="#00ff00"/>
<rect x="405" y="207" width="1" height="17" fill="#000"/>
<rect x="404" y="210" width="3" height="3" fill="#000"/>
<rect x="405" y="211" width="1" height="1" fill="#ff0000"/>
<rect x="409" y="191" width="1" height="23" fill="#000"/>
<rect x="408" y="194" width="3" height="17" fill="#000"/>
<rect x="409" y="195" width="1" height="15" fill="#ff0000"/>
<rect x="413" y="192" width="1" height="2" fill="#000"/>
<rect x="412" y="193" width="3" height="1" fill="#000"/>
<rect x="417" y="181" width="1" height="13" fill="#000"/>
<rect x="416" y="183" width="3" height="10" fill="#000"/>
<rect x="417" y="184" width="1" height="8" fill="#ff0000"/>
<rect x="421" y="180" width="1" height="17" fill="#000"/>
<rect x="420" y="183" width="3" height="3" fill="#000"/>
<rect x="421" y="184" width="1" height="1" fill="#00ff00"/>
<rect x="425" y="172" width="1" height="23" fill="#000"/>
<rect x="424" y="186" width="3" height="4" fill="#000"/>
<rect x="425" y="187" width="1" height="2" fill="#00ff00"/>
<rect x="429" y="160" width="1" height="39" fill="#000"/>
<rect x="428" y="162" width="3" height="28" fill="#000"/>
<rect x="429" y="163" width="1" height="26" fill="#ff0000"/>
<rect x="433" y="157" width="1" height="24" fill="#000"/>
<rect x="432" y="162" width="3" height="16" fill="#000"/>
<rect x="433" y="163" width="1" height="14" fill="#00ff00"/>
<rect x="437" y="177" width="1" height="5" fill="#000"/>
<rect x="436" y="178" width="3" height="3" fill="#000"/>
<rect x="437" y="179" width="1" height="1" fill="#00ff00"/>
<rect x="441" y="172" width="1" height="15" fill="#000"/>
<rect x="440" y="181" width="3" height="4" fill="#000"/>
<rect x="441" y="182" width="1" height="2" fill="#00ff00"/>
<rect x="445" y="168" width="1" height="26" fill="#000"/>
<rect x="444" y="175" width="3" height="10" fill="#000"/>
<rect x="445" y="176" width="1" height="8" fill="#ff0000"/>
<rect x="449" y="171" width="1" height="18" fill="#000"/>
<rect x="448" y="175" width="3" height="10" fill="#000"/>
<rect x="449" y="176" width="1" height="8" fill="#00ff00"/>
<rect x="453" y="183" width="1" height="30" fill="#000"/>
<rect x="452" y="185" width="3" height="26" fill="#000"/>
<rect x="453" y="186" width="1" height="24" fill="#00ff00"/>
<rect x="457" y="199" width="1" height="30" fill="#000"/>
<rect x="456" y="211" width="3" height="14" fill="#000"/>
<rect x="457" y="212" width="1" height="12" fill="#00ff00"/>
<rect x="461" y="230" width="1" height="6" fill="#000"/>
<rect x="460" y="230" width="3" height="4" fill="#000"/>
<rect x="461" y="231" width="1" height="2" fill="#00ff00"/>
<rect x="465" y="229" width="1" height="37" fill="#000"/>
<rect x="464" y="234" width="3" height="24" fill="#000"/>
<rect x="465" y="235" width="1" height="22" fill="#00ff00"/>
<rect x="469" y="248" width="1" height="36" fill="#000"/>
<rect x="468" y="257" width="3" height="15" fill="#000"/>
<rect x="469" y="258" width="1" height="13" fill="#00ff00"/>
<rect x="473" y="232" width="1" height="42" fill="#000"/>
<rect x="472" y="234" width="3" height="39" fill="#000"/>
<rect x="473" y="235" width="1" height="37" fill="#ff0000"/>
<rect x="477" y="219" width="1" height="38" fill="#000"/>
<rect x="476" y="228" width="3" height="6" fill="#000"/>
<rect x="477" y="229" width="1" height="4" fill="#ff0000"/>
<rect x="481" y="227" width="1" height="43" fill="#000"/>
<rect x="480" y="228" width="3" height="31" fill="#000"/>
<rect x="481" y="229" width="1" height="29" fill="#00ff00"/>
<rect x="485" y="253" width="1" height="5" fill="#000"/>
<rect x="484" y="254" width="3" height="3" fill="#000"/>
<rect x="485" y="255" width="1" height="1" fill="#ff0000"/>
<rect x="489" y="240" width="1" height="22" fill="#000"/>
<rect x="488" y="249" width="3" height="5" fill="#000"/>
<rect x="489" y="250" width="1" height="3" fill="#ff0000"/>
<rect x="493" y="241" width="1" height="18" fill="#000"/>
<rect x="492" y="249" width="3" height="3" fill="#000"/>
<rect x="493" y="250" width="1" height="1" fill="#00ff00"/>
<rect x="497" y="250" width="1" height="25" fill="#000"/>
<rect x="496" y="251" width="3" height="16" fill="#000"/>
<rect x="497" y="252" width="1" height="14" fill="#00ff00"/>
<rect x="501" y="261" width="1" height="17" fill="#000"/>
<rect x="500" y="267" width="3" height="1" fill="#000"/>
<rect x="505" y="252" width="1" height="21" fill="#000"/>
<rect x="504" y="257" width="3" height="11" fill="#000"/>
<rect x="505" y="258" width="1" height="9" fill="#ff0000"/>
<rect x="509" y="251" width="1" height="6" fill="#000"/>
<rect x="508" y="253" width="3" height="3" fill="#000"/>
<rect x="509" y="254" width="1" height="1" fill="#00ff00"/>
<rect x="513" y="254" width="1" height="13" fill="#000"/>
<rect x="512" y="256" width="3" height="7" fill="#000"/>
<rect x="513" y="257" width="1" height="5" fill="#00ff00"/>
<rect x="517" y="250" width="1" height="19" fill="#000"/>
<rect x="516" y="262" width="3" height="5" fill="#000"/>
<rect x="517" y="263" width="1" height="3" fill="#00ff00"/>
<rect x="521" y="263" width="1" height="19" fill="#000"/>
<rect x="520" y="268" width="3" height="8" fill="#000"/>
<rect x="521" y="269" width="1" height="6" fill="#00ff00"/>
<rect x="525" y="263" width="1" height="18" fill="#000"/>
<rect x="524" y="269" width="3" height="7" fill="#000"/>
<rect x="525" y="270" width="1" height="5" fill="#ff0000"/>
<rect x="529" y="267" width="1" height="42" fill="#000"/>
<rect x="528" y="269" width="3" height="24" fill="#000"/>
<rect x="529" y="270" width="1" height="22" fill="#00ff00"/>
<rect x="533" y="290" width="1" height="6" fill="#000"/>
<rect x="532" y="291" width="3" height="4" fill="#000"/>
<rect x="533" y="292" width="1" height="2" fill="#00ff00"/>
<rect x="537" y="272" width="1" height="28" fill="#000"/>
<rect x="536" y="277" width="3" height="17" fill="#000"/>
<rect x="537" y="278" width="1" height="15" fill="#ff0000"/>
<rect x="541" y="270" width="1" height="40" fill="#000"/>
<rect x="540" y="277" width="3" height="22" fill="#000"/>
<rect x="541" y="278" width="1" height="20" fill="#00ff00"/>
<rect x="545" y="290" width="1" height="20" fill="#000"/>
<rect x="544" y="299" width="3" height="4" fill="#000"/>
<rect x="545" y="300" width="1" height="2" fill="#00ff00"/>
<rect x="549" y="283" width="1" height="26" fill="#000"/>
<rect x="548" y="284" width="3" height="21" fill="#000"/>
<rect x="549" y="285" width="1" height="19" fill="#ff0000"/>
<rect x="553" y="276" width="1" height="25" fill="#000"/>
<rect x="552" y="283" width="3" height="1" fill="#000"/>
<rect x="557" y="283" width="1" height="2" fill="#000"/>
<rect x="556" y="285" width="3" height="1" fill="#000"/>
<rect x="561" y="284" width="1" height="39" fill="#000"/>
<rect x="560" y="285" width="3" height="31" fill="#000"/>
<rect x="561" y="286" width="1" height="29" fill="#00ff00"/>
<rect x="565" y="304" width="1" height="21" fill="#000"/>
<rect x="564" y="313" width="3" height="3" fill="#000"/>
<rect x="565" y="314" width="1" height="1" fill="#ff0000"/>
<rect x="569" y="297" width="1" height="23" fill="#000"/>
<rect x="568" y="313" width="3" height="5" fill="#000"/>
<rect x="569" y="314" width="1" height="3" fill="#00ff00"/>
<rect x="573" y="302" width="1" height="28" fill="#000"/>
<rect x="572" y="311" width="3" height="7" fill="#000"/>
<rect x="573" y="312" width="1" height="5" fill="#ff0000"/>
<rect x="577" y="296" width="1" height="26" fill="#000"/>
<rect x="576" y="300" width="3" height="11" fill="#000"/>
<rect x="577" y="301" width="1" height="9" fill="#ff0000"/>
<rect x="581" y="294" width="1" height="5" fill="#000"/>
<rect x="580" y="294" width="3" height="3" fill="#000"/>
<rect x="581" y="295" width="1" height="1" fill="#ff0000"/>
<rect x="585" y="283" width="1" height="18" fill="#000"/>
<rect x="584" y="295" width="3" height="1" fill="#000"/>
<rect x="589" y="265" width="1" height="33" fill="#000"/>
<rect x="588" y="270" width="3" height="25" fill="#000"/>
<rect x="589" y="271" width="1" height="23" fill="#ff0000"/>
<rect x="593" y="260" width="1" height="16" fill="#000"/>
<rect x="592" y="270" width="3" height="3" fill="#000"/>
<rect x="593" y="271" width="1" height="1" fill="#00ff00"/>
<rect x="597" y="258" width="1" height="23" fill="#000"/>
<rect x="596" y="262" width="3" height="11" fill="#000"/>
<rect x="597" y="263" width="1" height="9" fill="#ff0000"/>
<rect x="601" y="246" width="1" height="24" fill="#000"/>
<rect x="600" y="262" width="3" height="3" fill="#000"/>
<rect x="601" y="263" width="1" height="1" fill="#00ff00"/>
<rect x="605" y="263" width="1" height="5" fill="#000"/>
<rect x="604" y="264" width="3" height="3" fill="#000"/>
<rect x="605" y="265" width="1" height="1" fill="#00ff00"/>
<rect x="609" y="250" width="1" height="25" fill="#000"/>
<rect x="608" y="255" width="3" height="13" fill="#000"/>
<rect x="609" y="256" width="1" height="11" fill="#ff0000"/>
<rect x="613" y="244" width="1" height="18" fill="#000"/>
<rect x="612" y="255" width="3" height="1" fill="#000"/>
<rect x="617" y="236" width="1" height="30" fill="#000"/>
<rect x="616" y="241" width="3" height="14" fill="#000"/>
<rect x="617" y="242" width="1" height="12" fill="#ff0000"/>
<rect x="621" y="235" width="1" height="18" fill="#000"/>
<rect x="620" y="241" width="3" height="1" fill="#000"/>
<rect x="625" y="230" width="1" height="36" fill="#000"/>
<rect x="624" y="240" width="3" height="1" fill="#000"/>
<rect x="629" y="245" width="1" height="4" fill="#000"/>
<rect x="628" y="245" width="3" height="4" fill="#000"/>
<rect x="629" y="246" width="1" height="2" fill="#00ff00"/>
<rect x="633" y="226" width="1" height="23" fill="#000"/>
<rect x="632" y="232" width="3" height="16" fill="#000"/>
<rect x="633" y="233" width="1" height="14" fill="#ff0000"/>
<rect x="637" y="229" width="1" height="44" fill="#000"/>
<rect x="636" y="232" width="3" height="40" fill="#000"/>
<rect x="637" y="233" width="1" height="38" fill="#00ff00"/>
<rect x="641" y="252" width="1" height="21" fill="#000"/>
<rect x="640" y="258" width="3" height="14" fill="#000"/>
<rect x="641" y="259" width="1" height="12" fill="#ff0000"/>
<rect x="645" y="242" width="1" height="17" fill="#000"/>
<rect x="644" y="251" width="3" height="8" fill="#000"/>
<rect x="645" y="252" width="1" height="6" fill="#ff0000"/>
<rect x="649" y="247" width="1" height="31" fill="#000"/>
<rect x="648" y="251" width="3" height="15" fill="#000"/>
<rect x="649" y="252" width="1" height="13" fill="#00ff00"/>
<rect x="653" y="266" width="1" height="3" fill="#000"/>
<rect x="652" y="267" width="3" height="1" fill="#000"/>
<rect x="657" y="237" width="1" height="33" fill="#000"/>
<rect x="656" y="243" width="3" height="26" fill="#000"/>
<rect x="657" y="244" width="1" height="24" fill="#ff0000"/>
<rect x="661" y="242" width="1" height="12" fill="#000"/>
<rect x="660" y="243" width="3" height="10" fill="#000"/>
<rect x="661" y="244" width="1" height="8" fill="#00ff00"/>
<rect x="665" y="207" width="1" height="49" fill="#000"/>
<rect x="664" y="215" width="3" height="39" fill="#000"/>
<rect x="665" y="216" width="1" height="37" fill="#ff0000"/>
<rect x="669" y="199" width="1" height="23" fill="#000"/>
<rect x="668" y="210" width="3" height="5" fill="#000"/>
<rect x="669" y="211" width="1" height="3" fill="#ff0000"/>
<rect x="673" y="202" width="1" height="13" fill="#000"/>
<rect x="672" y="202" width="3" height="7" fill="#000"/>
<rect x="673" y="203" width="1" height="5" fill="#ff0000"/>
<rect x="677" y="203" width="1" height="4" fill="#000"/>
<rect x="676" y="204" width="3" height="3" fill="#000"/>
<rect x="677" y="205" width="1" height="1" fill="#00ff00"/>
<rect x="681" y="203" width="1" height="34" fill="#000"/>
<rect x="680" y="205" width="3" height="30" fill="#000"/>
<rect x="681" y="206" width="1" height="28" fill="#00ff00"/>
<rect x="685" y="228" width="1" height="14" fill="#000"/>
<rect x="684" y="234" width="3" height="1" fill="#000"/>
<rect x="689" y="232" width="1" height="34" fill="#000"/>
<rect x="688" y="234" width="3" height="26" fill="#000"/>
<rect x="689" y="235" width="1" height="24" fill="#00ff00"/>
<rect x="693" y="248" width="1" height="22" fill="#000"/>
<rect x="692" y="259" width="3" height="6" fill="#000"/>
<rect x="693" y="260" width="1" height="4" fill="#00ff00"/>
<rect x="697" y="263" width="1" height="18" fill="#000"/>
<rect x="696" y="265" width="3" height="13" fill="#000"/>
<rect x="697" y="266" width="1" height="11" fill="#00ff00"/>
<rect x="701" y="275" width="1" height="3" fill="#000"/>
<rect x="700" y="275" width="3" height="1" fill="#000"/>
<rect x="705" y="260" width="1" height="20" fill="#000"/>
<rect x="704" y="275" width="3" height="1" fill="#000"/>
<rect x="709" y="250" width="1" height="31" fill="#000"/>
<rect x="708" y="262" width="3" height="14" fill="#000"/>
<rect x="709" y="263" width="1" height="12" fill="#ff0000"/>
<rect x="713" y="260" width="1" height="14" fill="#000"/>
<rect x="712" y="262" width="3" height="5" fill="#000"/>
<rect x="713" y="263" width="1" height="3" fill="#00ff00"/>
<rect x="717" y="242" width="1" height="27" fill="#000"/>
<rect x="716" y="250" width="3" height="17" fill="#000"/>
<rect x="717" y="251" width="1" height="15" fill="#ff0000"/>
<rect x="721" y="237" width="1" height="35" fill="#000"/>
<rect x="720" y="250" width="3" height="21" fill="#000"/>
<rect x="721" y="251" width="1" height="19" fill="#00ff00"/>
<rect x="725" y="275" width="1" height="6" fill="#000"/>
<rect x="724" y="276" width="3" height="3" fill="#000"/>
<rect x="725" y="277" width="1" height="1" fill="#00ff00"/>
<rect x="729" y="261" width="1" height="25" fill="#000"/>
<rect x="728" y="266" width="3" height="14" fill="#000"/>
<rect x="729" y="267" width="1" height="12" fill="#ff0000"/>
<rect x="733" y="253" width="1" height="32" fill="#000"/>
<rect x="732" y="266" width="3" height="16" fill="#000"/>
<rect x="733" y="267" width="1" height="14" fill="#00ff00"/>
<rect x="737" y="268" width="1" height="23" fill="#000"/>
<rect x="736" y="282" width="3" height="8" fill="#000"/>
<rect x="737" y="283" width="1" height="6" fill="#00ff00"/>
<rect x="741" y="284" width="1" height="22" fill="#000"/>
<rect x="740" y="290" width="3" height="9" fill="#000"/>
<rect x="741" y="291" width="1" height="7" fill="#00ff00"/>
<rect x="745" y="283" width="1" height="22" fill="#000"/>
<rect x="744" y="293" width="3" height="6" fill="#000"/>
<rect x="745" y="294" width="1" height="4" fill="#ff0000"/>
<rect x="749" y="298" width="1" height="4" fill="#000"/>
<rect x="748" y="298" width="3" height="3" fill="#000"/>
<rect x="749" y="299" width="1" height="1" fill="#00ff00"/>
<rect x="753" y="293" width="1" height="14" fill="#000"/>
<rect x="752" y="294" width="3" height="7" fill="#000"/>
<rect x="753" y="295" width="1" height="5" fill="#ff0000"/>
<rect x="757" y="288" width="1" height="32" fill="#000"/>
<rect x="756" y="294" width="3" height="26" fill="#000"/>
<rect x="757" y="295" width="1" height="24" fill="#00ff00"/>
<rect x="761" y="305" width="1" height="23" fill="#000"/>
<rect x="760" y="312" width="3" height="8" fill="#000"/>
<rect x="761" y="313" width="1" height="6" fill="#ff0000"/>
<rect x="765" y="308" width="1" height="16" fill="#000"/>
<rect x="764" y="308" width="3" height="4" fill="#000"/>
<rect x="765" y="309" width="1" height="2" fill="#ff0000"/>
<rect x="769" y="275" width="1" height="35" fill="#000"/>
<rect x="768" y="286" width="3" height="23" fill="#000"/>
<rect x="769" y="287" width="1" height="21" fill="#ff0000"/>
<rect x="773" y="282" width="1" height="4" fill="#000"/>
<rect x="772" y="284" width="3" height="1" fill="#000"/>
<rect x="777" y="269" width="1" height="23" fill="#000"/>
<rect x="776" y="270" width="3" height="14" fill="#000"/>
<rect x="777" y="271" width="1" height="12" fill="#ff0000"/>
<rect x="781" y="264" width="1" height="56" fill="#000"/>
<rect x="780" y="270" width="3" height="45" fill="#000"/>
<rect x="781" y="271" width="1" height="43" fill="#00ff00"/>
<rect x="785" y="309" width="1" height="16" fill="#000"/>
<rect x="784" y="311" width="3" height="4" fill="#000"/>
<rect x="785" y="312" width="1" height="2" fill="#ff0000"/>
<rect x="789" y="306" width="1" height="26" fill="#000"/>
<rect x="788" y="311" width="3" height="20" fill="#000"/>
<rect x="789" y="312" width="1" height="18" fill="#00ff00"/>
<rect x="793" y="320" width="1" height="16" fill="#000"/>
<rect x="792" y="325" width="3" height="6" fill="#000"/>
<rect x="793" y="326" width="1" height="4" fill="#ff0000"/>
<rect x="797" y="317" width="1" height="3" fill="#000"/>
<rect x="796" y="318" width="3" height="3" fill="#000"/>
<rect x="797" y="319" width="1" height="1" fill="#00ff00"/>
<rect x="801" y="316" width="1" height="20" fill="#000"/>
<rect x="800" y="318" width="3" height="3" fill="#000"/>
<rect x="801" y="319" width="1" height="1" fill="#ff0000"/>
<rect x="805" y="313" width="1" height="21" fill="#000"/>
<rect x="804" y="318" width="3" height="10" fill="#000"/>
<rect x="805" y="319" width="1" height="8" fill="#00ff00"/>
<rect x="809" y="325" width="1" height="30" fill="#000"/>
<rect x="808" y="328" width="3" height="25" fill="#000"/>
<rect x="809" y="329" width="1" height="23" fill="#00ff00"/>
<rect x="813" y="335" width="1" height="29" fill="#000"/>
<rect x="812" y="343" width="3" height="10" fill="#000"/>
<rect x="813" y="344" width="1" height="8" fill="#ff0000"/>
<rect x="817" y="342" width="1" height="41" fill="#000"/>
<rect x="816" y="343" width="3" height="38" fill="#000"/>
<rect x="817" y="344" width="1" height="36" fill="#00ff00"/>
<rect x="821" y="375" width="1" height="5" fill="#000"/>
<rect x="820" y="376" width="3" height="1" fill="#000"/>
<rect x="825" y="374" width="1" height="30" fill="#000"/>
<rect x="824" y="376" width="3" height="17" fill="#000"/>
<rect x="825" y="377" width="1" height="15" fill="#00ff00"/>
<rect x="829" y="381" width="1" height="30" fill="#000"/>
<rect x="828" y="393" width="3" height="11" fill="#000"/>
<rect x="829" y="394" width="1" height="9" fill="#00ff00"/>
<rect x="833" y="376" width="1" height="50" fill="#000"/>
<rect x="832" y="384" width="3" height="21" fill="#000"/>
<rect x="833" y="385" width="1" height="19" fill="#ff0000"/>
<rect x="837" y="380" width="1" height="25" fill="#000"/>
<rect x="836" y="383" width="3" height="1" fill="#000"/>
<rect x="841" y="378" width="1" height="36" fill="#000"/>
<rect x="840" y="384" width="3" height="29" fill="#000"/>
<rect x="841" y="385" width="1" height="27" fill="#00ff00"/>
<rect x="845" y="406" width="1" height="5" fill="#000"/>
<rect x="844" y="409" width="3" height="1" fill="#000"/>
<rect x="849" y="379" width="1" height="33" fill="#000"/>
<rect x="848" y="384" width="3" height="26" fill="#000"/>
<rect x="849" y="385" width="1" height="24" fill="#ff0000"/>
<rect x="853" y="371" width="1" height="30" fill="#000"/>
<rect x="852" y="382" width="3" height="3" fill="#000"/>
<rect x="853" y="383" width="1" height="1" fill="#ff0000"/>
<rect x="857" y="378" width="1" height="32" fill="#000"/>
<rect x="856" y="382" width="3" height="1" fill="#000"/>
<rect x="861" y="373" width="1" height="45" fill="#000"/>
<rect x="860" y="381" width="3" height="29" fill="#000"/>
<rect x="861" y="382" width="1" height="27" fill="#00ff00"/>
<rect x="865" y="405" width="1" height="20" fill="#000"/>
<rect x="864" y="410" width="3" height="15" fill="#000"/>
<rect x="865" y="411" width="1" height="13" fill="#00ff00"/>
<rect x="869" y="426" width="1" height="6" fill="#000"/>
<rect x="868" y="426" width="3" height="4" fill="#000"/>
<rect x="869" y="427" width="1" height="2" fill="#ff0000"/>
<rect x="873" y="420" width="1" height="32" fill="#000"/>
<rect x="872" y="426" width="3" height="19" fill="#000"/>
<rect x="873" y="427" width="1" height="17" fill="#00ff00"/>
<rect x="877" y="430" width="1" height="30" fill="#000"/>
<rect x="876" y="445" width="3" height="10" fill="#000"/>
<rect x="877" y="446" width="1" height="8" fill="#00ff00"/>
<rect x="881" y="444" width="1" height="19" fill="#000"/>
<rect x="880" y="451" width="3" height="4" fill="#000"/>
<rect x="881" y="452" width="1" height="2" fill="#ff0000"/>
<rect x="885" y="439" width="1" height="43" fill="#000"/>
<rect x="884" y="445" width="3" height="6" fill="#000"/>
<rect x="885" y="446" width="1" height="4" fill="#ff0000"/>
<rect x="889" y="430" width="1" height="45" fill="#000"/>
<rect x="888" y="445" width="3" height="27" fill="#000"/>
<rect x="889" y="446" width="1" height="25" fill="#00ff00"/>
<rect x="893" y="466" width="1" height="4" fill="#000"/>
<rect x="892" y="466" width="3" height="3" fill="#000"/>
<rect x="893" y="467" width="1" height="1" fill="#ff0000"/>
<rect x="897" y="440" width="1" height="31" fill="#000"/>
<rect x="896" y="445" width="3" height="22" fill="#000"/>
<rect x="897" y="446" width="1" height="20" fill="#ff0000"/>
<rect x="901" y="432" width="1" height="22" fill="#000"/>
<rect x="900" y="439" width="3" height="6" fill="#000"/>
<rect x="901" y="440" width="1" height="4" fill="#ff0000"/>
<rect x="905" y="436" width="1" height="23" fill="#000"/>
<rect x="904" y="439" width="3" height="16" fill="#000"/>
<rect x="905" y="440" width="1" height="14" fill="#00ff00"/>
<rect x="909" y="427" width="1" height="38" fill="#000"/>
<rect x="908" y="451" width="3" height="4" fill="#000"/>
<rect x="909" y="452" width="1" height="2" fill="#ff0000"/>
<rect x="913" y="420" width="1" height="51" fill="#000"/>
<rect x="912" y="424" width="3" height="28" fill="#000"/>
<rect x="913" y="425" width="1" height="26" fill="#ff0000"/>
<rect x="917" y="416" width="1" height="12" fill="#000"/>
<rect x="916" y="423" width="3" height="1" fill="#000"/>
<rect x="921" y="421" width="1" height="31" fill="#000"/>
<rect x="920" y="423" width="3" height="12" fill="#000"/>
<rect x="921" y="424" width="1" height="10" fill="#00ff00"/>
</g>
<rect x="0" y="23" width="1" height="471" fill="#000000" shape-rendering="crispEdges"/>
<g shape-rendering="crispEdges">
<rect x="1" y="281" width="1162" height="2" fill="#ff0000"/>
<rect x="0" y="279" width="6" height="6" fill="#ff0000"/>
<rect x="2" y="281" width="2" height="2" fill="#ffffff"/>
<rect x="1157" y="279" width="6" height="6" fill="#ff0000"/>
<rect x="1159" y="281" width="2" height="2" fill="#ffffff"/>
<rect x="1" y="340" width="1162" height="2" fill="#ff0000"/>
<rect x="0" y="338" width="6" height="6" fill="#ff0000"/>
<rect x="2" y="340" width="2" height="2" fill="#ffffff"/>
<rect x="1157" y="338" width="6" height="6" fill="#ff0000"/>
<rect x="1159" y="340" width="2" height="2" fill="#ffffff"/>
<rect x="1" y="398" width="1162" height="2" fill="#00ff00"/>
<rect x="0" y="396" width="6" height="6" fill="#00ff00"/>
<rect x="2" y="398" width="2" height="2" fill="#ffffff"/>
<rect x="1157" y="396" width="6" height="6" fill="#00ff00"/>
<rect x="1159" y="398" width="2" height="2" fill="#ffffff"/>
<rect x="1" y="435" width="1162" height="1" fill="#000000"/>
<rect x="1" y="456" width="1162" height="2" fill="#6a5acd"/>
<rect x="0" y="454" width="6" height="6" fill="#6a5acd"/>
<rect x="2" y="456" width="2" height="2" fill="#ffffff"/>
<rect x="1157" y="454" width="6" height="6" fill="#6a5acd"/>
<rect x="1159" y="456" width="2" height="2" fill="#ffffff"/>
</g>
<polygon fill="#f93636" points="932.2,447.4 942.6,416.9 940.4,414.7 953.9,404.2 953.9,421.8 950.5,420.9"/>
<polygon fill="#96c800" points="969,405.1 1038.9,451.5 1042.2,448.5 1050.7,463.6 1032.3,460.9 1035.4,456.5"/>
<polygon fill="#000" points="4,30 11.5,30 7.75,34.5"/>
<polygon fill="#000" points="924,24 935,24 929.5,29.5"/>
<text x="16.5" y="35" font-size="10.2" fill="#000" stroke="#000" stroke-width="0.18" textLength="68" lengthAdjust="spacingAndGlyphs">AUDUSD-,Daily</text>
<text x="91.0" y="35" font-size="10.2" fill="#000" stroke="#000" stroke-width="0.18" textLength="32.6" lengthAdjust="spacingAndGlyphs">0.63681</text>
<text x="127.1" y="35" font-size="10.2" fill="#000" stroke="#000" stroke-width="0.18" textLength="32.6" lengthAdjust="spacingAndGlyphs">0.63754</text>
<text x="163.2" y="35" font-size="10.2" fill="#000" stroke="#000" stroke-width="0.18" textLength="32.6" lengthAdjust="spacingAndGlyphs">0.62716</text>
<text x="199.3" y="35" font-size="10.2" fill="#000" stroke="#000" stroke-width="0.18" textLength="32.6" lengthAdjust="spacingAndGlyphs">0.63270</text>
<text x="5.3" y="508" font-size="10.2" fill="#000" stroke="#000" stroke-width="0.18" textLength="66.2" lengthAdjust="spacingAndGlyphs">MACD(12,26,9)</text>
<text x="74.4" y="508" font-size="10.2" fill="#000" stroke="#000" stroke-width="0.18" textLength="40.6" lengthAdjust="spacingAndGlyphs">-0.006948</text>
<text x="118" y="508" font-size="10.2" fill="#000" stroke="#000" stroke-width="0.18" textLength="41.4" lengthAdjust="spacingAndGlyphs">-0.009817</text>
<text x="5.3" y="559" font-size="10.2" fill="#000" stroke="#000" stroke-width="0.18" textLength="31.6" lengthAdjust="spacingAndGlyphs">RSI(14)</text>
<text x="40.1" y="559" font-size="10.2" fill="#000" stroke="#000" stroke-width="0.18" textLength="33.2" lengthAdjust="spacingAndGlyphs">43.2675</text>
<g shape-rendering="crispEdges">
<rect x="1164" y="28" width="2" height="1" fill="#000"/>
<rect x="1164" y="61" width="2" height="1" fill="#000"/>
<rect x="1164" y="94" width="2" height="1" fill="#000"/>
<rect x="1164" y="127" width="2" height="1" fill="#000"/>
<rect x="1164" y="160" width="2" height="1" fill="#000"/>
<rect x="1164" y="193" width="2" height="1" fill="#000"/>
<rect x="1164" y="226" width="2" height="1" fill="#000"/>
<rect x="1164" y="259" width="2" height="1" fill="#000"/>
<rect x="1164" y="292" width="2" height="1" fill="#000"/>
<rect x="1164" y="325" width="2" height="1" fill="#000"/>
<rect x="1164" y="358" width="2" height="1" fill="#000"/>
<rect x="1164" y="391" width="2" height="1" fill="#000"/>
<rect x="1164" y="424" width="2" height="1" fill="#000"/>
<rect x="1164" y="490" width="2" height="1" fill="#000"/>
<rect x="1164" y="496" width="2" height="1" fill="#000"/>
<rect x="1164" y="515" width="2" height="1" fill="#000"/>
<rect x="1164" y="543" width="2" height="1" fill="#000"/>
<rect x="1164" y="547" width="2" height="1" fill="#000"/>
<rect x="1164" y="563" width="2" height="1" fill="#000"/>
<rect x="1164" y="583" width="2" height="1" fill="#000"/>
<rect x="1164" y="598" width="2" height="1" fill="#000"/>
</g>
<text x="1169" y="32" font-size="10.2" fill="#000" stroke="#000" stroke-width="0.18" textLength="33" lengthAdjust="spacingAndGlyphs">0.77240</text>
<text x="1169" y="65" font-size="10.2" fill="#000" stroke="#000" stroke-width="0.18" textLength="33" lengthAdjust="spacingAndGlyphs">0.76100</text>
<text x="1169" y="98" font-size="10.2" fill="#000" stroke="#000" stroke-width="0.18" textLength="33" lengthAdjust="spacingAndGlyphs">0.74960</text>
<text x="1169" y="131" font-size="10.2" fill="#000" stroke="#000" stroke-width="0.18" textLength="33" lengthAdjust="spacingAndGlyphs">0.73820</text>
<text x="1169" y="164" font-size="10.2" fill="#000" stroke="#000" stroke-width="0.18" textLength="33" lengthAdjust="spacingAndGlyphs">0.72710</text>
<text x="1169" y="197" font-size="10.2" fill="#000" stroke="#000" stroke-width="0.18" textLength="33" lengthAdjust="spacingAndGlyphs">0.71570</text>
<text x="1169" y="230" font-size="10.2" fill="#000" stroke="#000" stroke-width="0.18" textLength="33" lengthAdjust="spacingAndGlyphs">0.70430</text>
<text x="1169" y="263" font-size="10.2" fill="#000" stroke="#000" stroke-width="0.18" textLength="33" lengthAdjust="spacingAndGlyphs">0.69320</text>
<text x="1169" y="296" font-size="10.2" fill="#000" stroke="#000" stroke-width="0.18" textLength="33" lengthAdjust="spacingAndGlyphs">0.68180</text>
<text x="1169" y="329" font-size="10.2" fill="#000" stroke="#000" stroke-width="0.18" textLength="33" lengthAdjust="spacingAndGlyphs">0.67040</text>
<text x="1169" y="362" font-size="10.2" fill="#000" stroke="#000" stroke-width="0.18" textLength="33" lengthAdjust="spacingAndGlyphs">0.65930</text>
<text x="1169" y="395" font-size="10.2" fill="#000" stroke="#000" stroke-width="0.18" textLength="33" lengthAdjust="spacingAndGlyphs">0.64790</text>
<text x="1169" y="428" font-size="10.2" fill="#000" stroke="#000" stroke-width="0.18" textLength="33" lengthAdjust="spacingAndGlyphs">0.63650</text>
<text x="1169" y="494" font-size="10.2" fill="#000" stroke="#000" stroke-width="0.18" textLength="33" lengthAdjust="spacingAndGlyphs">0.61400</text>
<rect x="1165" y="276" width="40" height="11" fill="#ff0000" shape-rendering="crispEdges"/>
<text x="1169" y="285" font-size="10.2" fill="#fff" stroke="#fff" stroke-width="0.05" textLength="33" lengthAdjust="spacingAndGlyphs">0.68524</text>
<rect x="1165" y="335" width="40" height="11" fill="#ff0000" shape-rendering="crispEdges"/>
<text x="1169" y="344" font-size="10.2" fill="#fff" stroke="#fff" stroke-width="0.05" textLength="33" lengthAdjust="spacingAndGlyphs">0.66497</text>
<rect x="1165" y="393" width="40" height="11" fill="#00ff00" shape-rendering="crispEdges"/>
<text x="1169" y="402" font-size="10.2" fill="#fff" stroke="#fff" stroke-width="0.05" textLength="33" lengthAdjust="spacingAndGlyphs">0.64525</text>
<rect x="1165" y="430" width="40" height="11" fill="#000000" shape-rendering="crispEdges"/>
<text x="1169" y="439" font-size="10.2" fill="#fff" stroke="#fff" stroke-width="0.05" textLength="33" lengthAdjust="spacingAndGlyphs">0.63270</text>
<rect x="1165" y="451" width="40" height="11" fill="#6a5acd" shape-rendering="crispEdges"/>
<text x="1169" y="460" font-size="10.2" fill="#fff" stroke="#fff" stroke-width="0.05" textLength="33" lengthAdjust="spacingAndGlyphs">0.62524</text>
<text x="1167.6" y="506.5" font-size="10.2" fill="#000" stroke="#000" stroke-width="0.18" textLength="33" lengthAdjust="spacingAndGlyphs">0.00823</text>
<text x="1167.6" y="519" font-size="10.2" fill="#000" stroke="#000" stroke-width="0.18" textLength="18" lengthAdjust="spacingAndGlyphs">0.00</text>
<text x="1167.6" y="541.5" font-size="10.2" fill="#000" stroke="#000" stroke-width="0.18" textLength="42" lengthAdjust="spacingAndGlyphs">-0.012827</text>
<text x="1167.6" y="557" font-size="10.2" fill="#000" stroke="#000" stroke-width="0.18" textLength="15" lengthAdjust="spacingAndGlyphs">100</text>
<text x="1167.6" y="567.5" font-size="10.2" fill="#000" stroke="#000" stroke-width="0.18" textLength="10" lengthAdjust="spacingAndGlyphs">70</text>
<text x="1167.6" y="587" font-size="10.2" fill="#000" stroke="#000" stroke-width="0.18" textLength="10" lengthAdjust="spacingAndGlyphs">30</text>
<text x="1167.6" y="596" font-size="10.2" fill="#000" stroke="#000" stroke-width="0.18" textLength="5" lengthAdjust="spacingAndGlyphs">0</text>
<g shape-rendering="crispEdges">
<rect x="1" y="600" width="1" height="3" fill="#000"/>
<rect x="65" y="600" width="1" height="3" fill="#000"/>
<rect x="129" y="600" width="1" height="3" fill="#000"/>
<rect x="193" y="600" width="1" height="3" fill="#000"/>
<rect x="257" y="600" width="1" height="3" fill="#000"/>
<rect x="321" y="600" width="1" height="3" fill="#000"/>
<rect x="385" y="600" width="1" height="3" fill="#000"/>
<rect x="449" y="600" width="1" height="3" fill="#000"/>
<rect x="513" y="600" width="1" height="3" fill="#000"/>
<rect x="577" y="600" width="1" height="3" fill="#000"/>
<rect x="641" y="600" width="1" height="3" fill="#000"/>
<rect x="705" y="600" width="1" height="3" fill="#000"/>
<rect x="769" y="600" width="1" height="3" fill="#000"/>
<rect x="833" y="600" width="1" height="3" fill="#000"/>
<rect x="897" y="600" width="1" height="3" fill="#000"/>
</g>
<text x="0.6" y="612" font-size="10.2" fill="#000" stroke="#000" stroke-width="0.18" textLength="49.1" lengthAdjust="spacingAndGlyphs">28 Jan 2022</text>
<text x="64.6" y="612" font-size="10.2" fill="#000" stroke="#000" stroke-width="0.18" textLength="51.1" lengthAdjust="spacingAndGlyphs">16 Feb 2022</text>
<text x="128.6" y="612" font-size="10.2" fill="#000" stroke="#000" stroke-width="0.18" textLength="46.5" lengthAdjust="spacingAndGlyphs">7 Mar 2022</text>
<text x="192.6" y="612" font-size="10.2" fill="#000" stroke="#000" stroke-width="0.18" textLength="51.1" lengthAdjust="spacingAndGlyphs">25 Mar 2022</text>
<text x="256.6" y="612" font-size="10.2" fill="#000" stroke="#000" stroke-width="0.18" textLength="50.3" lengthAdjust="spacingAndGlyphs">13 Apr 2022</text>
<text x="320.6" y="612" font-size="10.2" fill="#000" stroke="#000" stroke-width="0.18" textLength="49.1" lengthAdjust="spacingAndGlyphs">2 May 2022</text>
<text x="384.6" y="612" font-size="10.2" fill="#000" stroke="#000" stroke-width="0.18" textLength="54.8" lengthAdjust="spacingAndGlyphs">20 May 2022</text>
<text x="448.6" y="612" font-size="10.2" fill="#000" stroke="#000" stroke-width="0.18" textLength="44.8" lengthAdjust="spacingAndGlyphs">8 Jun 2022</text>
<text x="512.6" y="612" font-size="10.2" fill="#000" stroke="#000" stroke-width="0.18" textLength="49.2" lengthAdjust="spacingAndGlyphs">27 Jun 2022</text>
<text x="576.6" y="612" font-size="10.2" fill="#000" stroke="#000" stroke-width="0.18" textLength="46.5" lengthAdjust="spacingAndGlyphs">15 Jul 2022</text>
<text x="640.6" y="612" font-size="10.2" fill="#000" stroke="#000" stroke-width="0.18" textLength="47.5" lengthAdjust="spacingAndGlyphs">3 Aug 2022</text>
<text x="704.6" y="612" font-size="10.2" fill="#000" stroke="#000" stroke-width="0.18" textLength="52" lengthAdjust="spacingAndGlyphs">22 Aug 2022</text>
<text x="768.6" y="612" font-size="10.2" fill="#000" stroke="#000" stroke-width="0.18" textLength="46.6" lengthAdjust="spacingAndGlyphs">9 Sep 2022</text>
<text x="832.6" y="612" font-size="10.2" fill="#000" stroke="#000" stroke-width="0.18" textLength="51.3" lengthAdjust="spacingAndGlyphs">28 Sep 2022</text>
<text x="896.6" y="612" font-size="10.2" fill="#000" stroke="#000" stroke-width="0.18" textLength="50.4" lengthAdjust="spacingAndGlyphs">17 Oct 2022</text>
<rect x="0" y="620" width="1205" height="1" fill="#dcdcdc"/>
<rect x="0" y="621" width="1205" height="1" fill="#f4f4f4"/>
<rect x="0" y="622" width="1205" height="1" fill="#000000"/>
<rect x="0" y="623" width="1205" height="22" fill="#f0f0f0"/>
<rect x="0" y="645" width="1205" height="1" fill="#c8c8c8"/>
<rect x="0" y="646" width="1205" height="1" fill="#989898"/>
<rect x="198" y="621" width="108" height="19" fill="#ffffff"/>
<rect x="198" y="622" width="1" height="19" fill="#000"/>
<rect x="305" y="622" width="1" height="19" fill="#000"/>
<rect x="198" y="640" width="108" height="1" fill="#000"/>
<text x="14.6" y="636.5" font-size="12" fill="#6e6e6e" stroke="#6e6e6e" stroke-width="0.1" textLength="63.1" lengthAdjust="spacingAndGlyphs">USDX,Daily</text>
<text x="101.6" y="636.5" font-size="12" fill="#6e6e6e" stroke="#6e6e6e" stroke-width="0.1" textLength="84.5" lengthAdjust="spacingAndGlyphs">EURUSD-,Daily</text>
<text x="208.6" y="636.5" font-size="12" fill="#000" stroke="#000" stroke-width="0.1" textLength="86" lengthAdjust="spacingAndGlyphs">AUDUSD-,Daily</text>
<text x="318.3" y="636.5" font-size="12" fill="#6e6e6e" stroke="#6e6e6e" stroke-width="0.1" textLength="83" lengthAdjust="spacingAndGlyphs">USDCHF-,Daily</text>
<text x="425.5" y="636.5" font-size="12" fill="#6e6e6e" stroke="#6e6e6e" stroke-width="0.1" textLength="85.3" lengthAdjust="spacingAndGlyphs">USDCAD-,Daily</text>
<text x="534" y="636.5" font-size="12" fill="#6e6e6e" stroke="#6e6e6e" stroke-width="0.1" textLength="87.3" lengthAdjust="spacingAndGlyphs">USDCNH-,Daily</text>
<text x="645.2" y="636.5" font-size="12" fill="#6e6e6e" stroke="#6e6e6e" stroke-width="0.1" textLength="54" lengthAdjust="spacingAndGlyphs">HK50-,H1</text>
<text x="719.9" y="636.5" font-size="12" fill="#6e6e6e" stroke="#6e6e6e" stroke-width="0.1" textLength="70.5" lengthAdjust="spacingAndGlyphs">EURCHF-,H1</text>
<text x="813.9" y="636.5" font-size="12" fill="#6e6e6e" stroke="#6e6e6e" stroke-width="0.1" textLength="68.4" lengthAdjust="spacingAndGlyphs">USOil-,Daily</text>
<text x="905" y="636.5" font-size="12" fill="#6e6e6e" stroke="#6e6e6e" stroke-width="0.1" textLength="56.4" lengthAdjust="spacingAndGlyphs">UKOil-,H4</text>
<text x="984.9" y="636.5" font-size="12" fill="#6e6e6e" stroke="#6e6e6e" stroke-width="0.1" textLength="73.5" lengthAdjust="spacingAndGlyphs">XAUUSD-,H1</text>
<text x="1081" y="636.5" font-size="12" fill="#6e6e6e" stroke="#6e6e6e" stroke-width="0.1" textLength="69.7" lengthAdjust="spacingAndGlyphs">UKOil-,Daily</text>
<rect x="90" y="625" width="1" height="14" fill="#7a7a7a" shape-rendering="crispEdges"/>
<rect x="414" y="625" width="1" height="14" fill="#7a7a7a" shape-rendering="crispEdges"/>
<rect x="522" y="625" width="1" height="14" fill="#7a7a7a" shape-rendering="crispEdges"/>
<rect x="634" y="625" width="1" height="14" fill="#7a7a7a" shape-rendering="crispEdges"/>
<rect x="710" y="625" width="1" height="14" fill="#7a7a7a" shape-rendering="crispEdges"/>
<rect x="802" y="625" width="1" height="14" fill="#7a7a7a" shape-rendering="crispEdges"/>
<rect x="894" y="625" width="1" height="14" fill="#7a7a7a" shape-rendering="crispEdges"/>
<rect x="974" y="625" width="1" height="14" fill="#7a7a7a" shape-rendering="crispEdges"/>
<rect x="1069" y="625" width="1" height="14" fill="#7a7a7a" shape-rendering="crispEdges"/>
<rect x="1162" y="625" width="1" height="14" fill="#7a7a7a" shape-rendering="crispEdges"/>
<polygon fill="#959595" points="1182.6,627.5 1182.6,634.7 1178.7,631.1"/>
<polygon fill="#858585" points="1197.7,627.5 1197.7,634.7 1201.5,631.1"/></svg></body></html>
